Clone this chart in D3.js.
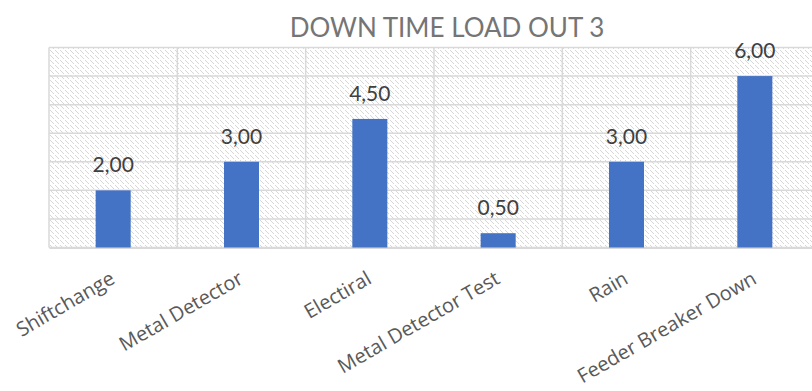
<!DOCTYPE html>
<html>
<head>
<meta charset="utf-8">
<script src="https://cdn.jsdelivr.net/npm/d3@7"></script>
<style>
  html, body { margin: 0; padding: 0; background: #fff; }
  svg { display: block; }
</style>
</head>
<body>
<svg id="chart" width="812" height="391"></svg>
<script>
// Downtime per cause, hours
const categories = ["Shiftchange", "Metal Detector", "Electiral", "Metal Detector Test", "Rain", "Feeder Breaker Down"];
const hours = [2.0, 3.0, 4.5, 0.5, 3.0, 6.0];
const yTicks = [0, 1, 2, 3, 4, 5, 6, 7];
const chartTitle = "DOWN TIME LOAD OUT 3";

const svg = d3.select("#chart");
const plot = { left: 49, right: 819, top: 47.5, bottom: 247.5 };

const x = d3.scaleBand().domain(categories).range([plot.left, plot.right]).paddingInner(0).paddingOuter(0);
const y = d3.scaleLinear().domain([0, 7]).range([plot.bottom, plot.top]);

// light downward diagonal fill for the plot area (dashed diagonal strokes)
const defs = svg.append("defs");
const pat = defs.append("pattern")
  .attr("id", "hatch").attr("patternUnits", "userSpaceOnUse")
  .attr("width", 5).attr("height", 5);
[0, 1, 2, 3].forEach(i => {
  pat.append("rect").attr("x", i).attr("y", i).attr("width", 1).attr("height", 1).attr("fill", "#d7d7d7");
});

svg.append("rect")
  .attr("x", plot.left).attr("y", plot.top)
  .attr("width", plot.right - plot.left).attr("height", plot.bottom - plot.top)
  .attr("fill", "url(#hatch)");

// horizontal gridlines
svg.append("g")
  .selectAll("line").data(yTicks).join("line")
  .attr("x1", plot.left).attr("x2", plot.right)
  .attr("y1", d => y(d)).attr("y2", d => y(d))
  .attr("stroke", "#d9d9d9").attr("stroke-width", 1.5);

// vertical gridlines at category boundaries
svg.append("g")
  .selectAll("line").data(categories).join("line")
  .attr("x1", d => x(d)).attr("x2", d => x(d))
  .attr("y1", plot.top).attr("y2", plot.bottom)
  .attr("stroke", "#d9d9d9").attr("stroke-width", 1.5);

// category axis
const xAxis = svg.append("g")
  .attr("transform", `translate(0,${plot.bottom})`)
  .call(d3.axisBottom(x).tickSize(0).tickPadding(0));
xAxis.select(".domain").attr("stroke", "#d9d9d9").attr("stroke-width", 2);
xAxis.selectAll("text")
  .attr("font-family", "'Open Sans', sans-serif")
  .attr("font-size", 20)
  .attr("fill", "#595959")
  .attr("text-anchor", "end")
  .attr("dy", null).attr("y", 0)
  .attr("transform", "translate(3,35) rotate(-30)");

// bars
const barW = x.bandwidth() * 0.273;
svg.append("g")
  .selectAll("rect").data(hours).join("rect")
  .attr("x", (d, i) => x(categories[i]) + x.bandwidth() / 2 - barW / 2)
  .attr("y", d => y(d))
  .attr("width", barW)
  .attr("height", d => y(0) - y(d))
  .attr("fill", "#4472c4");

// value labels
const fmt = v => v.toFixed(2).replace(".", ",");
svg.append("g")
  .selectAll("text").data(hours).join("text")
  .attr("x", (d, i) => x(categories[i]) + x.bandwidth() / 2)
  .attr("y", d => y(d) - 18)
  .attr("text-anchor", "middle")
  .attr("font-family", "Lato, sans-serif")
  .attr("font-size", 21)
  .attr("fill", "#404040")
  .text(fmt);

// title
svg.append("text")
  .attr("x", 447).attr("y", 37)
  .attr("text-anchor", "middle")
  .attr("font-family", "Lato, sans-serif")
  .attr("font-size", 26)
  .attr("fill", "#757575")
  .text(chartTitle);
</script>
</body>
</html>
